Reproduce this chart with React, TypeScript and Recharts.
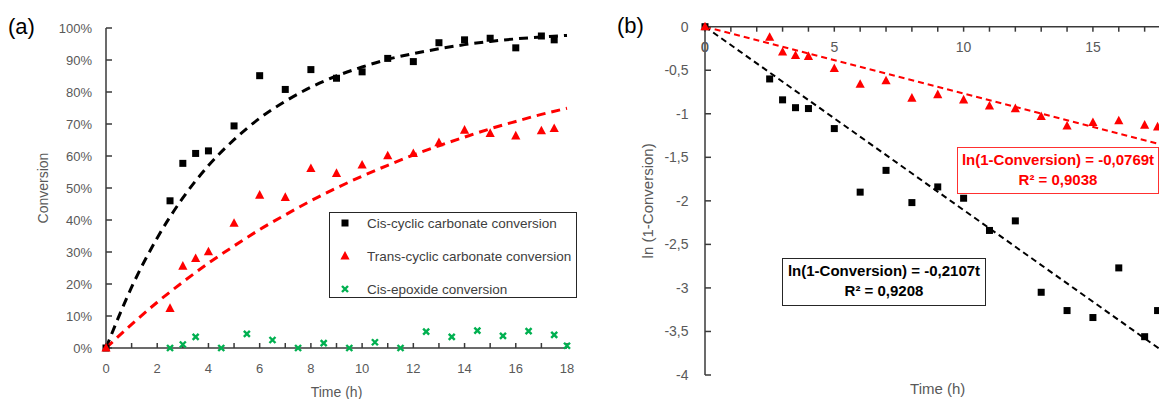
import { ComposedChart, Label, Line, Scatter, XAxis, YAxis } from "recharts";

const FONT = "'Liberation Sans', Arial, sans-serif";
const GRIS = "#595959";
const EIXO = "#3a3a3a";

// (a) conversão x tempo
const tempoCarbonato = [0, 2.5, 3, 3.5, 4, 5, 6, 7, 8, 9, 10, 11, 12, 13, 14, 15, 16, 17, 17.5];
const cisCarbonato = [0, 46, 57.7, 60.8, 61.6, 69.4, 85.1, 80.8, 87, 84.3, 86.3, 90.5, 89.5, 95.4, 96.3, 96.8, 93.8, 97.5, 96.3];
const transCarbonato = [0, 12.4, 25.6, 28, 30.1, 39, 47.8, 47.1, 56.1, 54.6, 57.2, 60.1, 60.8, 64.2, 68.1, 67.1, 66.3, 67.9, 68.6];
const tempoEpoxido = [2.5, 3, 3.5, 4.5, 5.5, 6.5, 7.5, 8.5, 9.5, 10.5, 11.5, 12.5, 13.5, 14.5, 15.5, 16.5, 17.5, 18];
const cisEpoxido = [0, 1.1, 3.5, 0, 4.4, 2.5, 0, 1.5, 0, 1.8, 0, 5.1, 3.5, 5.4, 3.8, 5.3, 4.1, 0.7];
const tempoAjusteA = [0, 1, 2, 3, 4, 5, 6, 7, 8, 9, 10, 11, 12, 13, 14, 15, 16, 17, 18];
const ajusteCisA = [0, 19, 34.4, 46.9, 57, 65.1, 71.8, 77.1, 81.5, 85, 87.8, 90.2, 92, 93.5, 94.8, 95.8, 96.6, 97.2, 97.7];
const ajusteTransA = [0, 7.4, 14.3, 20.6, 26.5, 31.9, 37, 41.6, 46, 50, 53.7, 57.1, 60.3, 63.2, 65.9, 68.5, 70.8, 73, 74.9];
const ticksConversao = [0, 10, 20, 30, 40, 50, 60, 70, 80, 90, 100];
const ticksTempo = [0, 1, 2, 3, 4, 5, 6, 7, 8, 9, 10, 11, 12, 13, 14, 15, 16, 17, 18];
const nomesLegenda = ["Cis-cyclic carbonate conversion", "Trans-cyclic carbonate conversion", "Cis-epoxide conversion"];

// (b) ln(1 - conversão) x tempo
const lnCis = [0, -0.6, -0.84, -0.93, -0.94, -1.17, -1.9, -1.65, -2.02, -1.84, -1.97, -2.34, -2.23, -3.05, -3.26, -3.34, -2.77, -3.56, -3.26];
const lnTrans = [0, -0.12, -0.29, -0.33, -0.34, -0.48, -0.66, -0.62, -0.82, -0.78, -0.84, -0.91, -0.94, -1.03, -1.14, -1.1, -1.08, -1.13, -1.15];
const tempoAjusteB = [0, 18];
const ajusteCisB = [0, -3.79];
const ajusteTransB = [0, -1.38];
const ticksLn = [-4, -3.5, -3, -2.5, -2, -1.5, -1, -0.5, 0];
const equacaoTrans = ["ln(1-Conversion) = -0,0769t", "R² = 0,9038"];
const equacaoCis = ["ln(1-Conversion) = -0,2107t", "R² = 0,9208"];

const pontos = (xs: number[], ys: number[]) => xs.map((x, i) => ({ x, y: ys[i] }));

function Quadrado({ cx, cy }: any) {
  return <rect x={cx - 3.5} y={cy - 3.5} width={7} height={7} fill="#000" />;
}

function Triangulo({ cx, cy }: any) {
  return <polygon points={`${cx},${cy - 5} ${cx + 4.6},${cy + 3.6} ${cx - 4.6},${cy + 3.6}`} fill="#ff0000" />;
}

function Xis({ cx, cy }: any) {
  const r = 3;
  return (
    <path
      d={`M${cx - r},${cy - r}L${cx + r},${cy + r}M${cx + r},${cy - r}L${cx - r},${cy + r}`}
      stroke="#00b050"
      strokeWidth={2.4}
      fill="none"
    />
  );
}

const formasLegenda = [Quadrado, Triangulo, Xis];

function TickTempoA({ x, y, payload }: any) {
  if (payload.value % 2 !== 0) return <g />;
  return (
    <text x={x} y={y} dy="0.71em" textAnchor="middle" fill={GRIS} fontSize={13} fontFamily={FONT}>
      {payload.value}
    </text>
  );
}

function CaixaEquacao({ linhas, cor, borda, left, top, width, height }: any) {
  return (
    <div
      style={{
        position: "absolute",
        left,
        top,
        width,
        height,
        boxSizing: "border-box",
        border: `1.5px solid ${borda}`,
        background: "#fff",
        color: cor,
        fontWeight: "bold",
        fontSize: 15,
        lineHeight: "20px",
        textAlign: "center",
        paddingTop: 2,
        whiteSpace: "nowrap",
      }}
    >
      {linhas.map((l: string) => (
        <div key={l}>{l}</div>
      ))}
    </div>
  );
}

export default function App() {
  const ajusteA = tempoAjusteA.map((x, i) => ({ x, cis: ajusteCisA[i], trans: ajusteTransA[i] }));
  const ajusteB = tempoAjusteB.map((x, i) => ({ x, cis: ajusteCisB[i], trans: ajusteTransB[i] }));

  return (
    <div
      style={{
        position: "absolute",
        left: 0,
        top: 0,
        width: 1159,
        height: 399,
        overflow: "hidden",
        background: "#fff",
        fontFamily: FONT,
      }}
    >
      <div style={{ position: "absolute", left: 0, top: 0 }}>
        <ComposedChart width={580} height={399} margin={{ top: 28, right: 13, bottom: 1, left: 0 }}>
          <XAxis
            dataKey="x"
            type="number"
            domain={[0, 18]}
            ticks={ticksTempo}
            interval={0}
            height={50}
            stroke={EIXO}
            strokeWidth={1.5}
            tickSize={-5}
            tickMargin={21}
            tick={TickTempoA}
          >
            <Label value="Time (h)" position="insideBottom" offset={1.5} fill={GRIS} fontSize={14} fontFamily={FONT} />
          </XAxis>
          <YAxis
            type="number"
            domain={[0, 100]}
            ticks={ticksConversao}
            interval={0}
            width={106}
            stroke={EIXO}
            strokeWidth={1.5}
            tickSize={-6}
            tickMargin={20}
            tickFormatter={(v: number) => `${v}%`}
            tick={{ fill: GRIS, fontSize: 13, fontFamily: FONT }}
          >
            <Label
              value="Conversion"
              angle={-90}
              position="insideLeft"
              offset={43}
              fill={GRIS}
              fontSize={14}
              fontFamily={FONT}
              style={{ textAnchor: "middle" }}
            />
          </YAxis>
          <Line data={ajusteA} dataKey="cis" type="monotone" stroke="#000" strokeWidth={3} strokeDasharray="9 6" dot={false} isAnimationActive={false} />
          <Line data={ajusteA} dataKey="trans" type="monotone" stroke="#ff0000" strokeWidth={3} strokeDasharray="9 6" dot={false} isAnimationActive={false} />
          <Scatter data={pontos(tempoCarbonato, cisCarbonato)} dataKey="y" shape={Quadrado} isAnimationActive={false} />
          <Scatter data={pontos(tempoCarbonato, transCarbonato)} dataKey="y" shape={Triangulo} isAnimationActive={false} />
          <Scatter data={pontos(tempoEpoxido, cisEpoxido)} dataKey="y" shape={Xis} isAnimationActive={false} />
        </ComposedChart>
      </div>

      <div
        style={{
          position: "absolute",
          left: 329,
          top: 212,
          width: 248,
          height: 86,
          boxSizing: "border-box",
          border: "1.5px solid #262626",
          background: "#fff",
        }}
      >
        {nomesLegenda.map((nome, i) => {
          const Forma = formasLegenda[i];
          return (
            <div
              key={nome}
              style={{
                position: "absolute",
                left: 0,
                top: i * 33,
                height: 20,
                display: "flex",
                alignItems: "center",
                whiteSpace: "nowrap",
              }}
            >
              <svg width={14} height={14} style={{ marginLeft: 8 }}>
                <Forma cx={7} cy={7} />
              </svg>
              <span style={{ marginLeft: 15, fontSize: 13.5, color: "#404040" }}>{nome}</span>
            </div>
          );
        })}
      </div>

      <div style={{ position: "absolute", left: 580, top: 0 }}>
        <ComposedChart width={600} height={399} margin={{ top: 25.7, right: 9.5, bottom: 24, left: 0 }}>
          <XAxis
            dataKey="x"
            type="number"
            orientation="top"
            height={1}
            domain={[0, 18]}
            ticks={ticksTempo}
            interval={0}
            stroke={EIXO}
            strokeWidth={1.5}
            tickSize={-5}
            tickMargin={-20}
            tickFormatter={(v: number) => (v % 5 === 0 ? String(v) : "")}
            tick={{ fill: GRIS, fontSize: 14, fontFamily: FONT }}
          />
          <YAxis
            type="number"
            domain={[-4, 0]}
            ticks={ticksLn}
            interval={0}
            width={125}
            stroke={EIXO}
            strokeWidth={1.5}
            tickSize={-6}
            tickMargin={22.5}
            tickFormatter={(v: number) => String(v).replace(".", ",")}
            tick={{ fill: GRIS, fontSize: 14, fontFamily: FONT }}
          >
            <Label
              value="ln (1-Conversion)"
              angle={-90}
              position="insideLeft"
              offset={68}
              fill={GRIS}
              fontSize={15}
              fontFamily={FONT}
              style={{ textAnchor: "middle" }}
            />
          </YAxis>
          <Line data={ajusteB} dataKey="cis" type="linear" stroke="#000" strokeWidth={2} strokeDasharray="6 4" dot={false} isAnimationActive={false} />
          <Line data={ajusteB} dataKey="trans" type="linear" stroke="#ff0000" strokeWidth={2} strokeDasharray="6 4" dot={false} isAnimationActive={false} />
          <Scatter data={pontos(tempoCarbonato, lnCis)} dataKey="y" shape={Quadrado} isAnimationActive={false} />
          <Scatter data={pontos(tempoCarbonato, lnTrans)} dataKey="y" shape={Triangulo} isAnimationActive={false} />
        </ComposedChart>
      </div>

      <CaixaEquacao linhas={equacaoTrans} cor="#ff0000" borda="#ff3030" left={957} top={147} width={202} height={47} />
      <CaixaEquacao linhas={equacaoCis} cor="#000" borda="#262626" left={782} top={258} width={204} height={48} />

      <svg width={1159} height={399} style={{ position: "absolute", left: 0, top: 0, pointerEvents: "none" }}>
        <text x={8} y={33.5} fontSize={22} fontFamily={FONT} fill="#000">(a)</text>
        <text x={617} y={32.5} fontSize={22} fontFamily={FONT} fill="#000">(b)</text>
        {/* 0 do eixo do tempo de (b), logo abaixo da origem */}
        <text x={705} y={51.5} textAnchor="middle" fontSize={14} fontFamily={FONT} fill={GRIS}>0</text>
        <text x={937.7} y={394} textAnchor="middle" fontSize={15} fontFamily={FONT} fill={GRIS}>Time (h)</text>
      </svg>
    </div>
  );
}
